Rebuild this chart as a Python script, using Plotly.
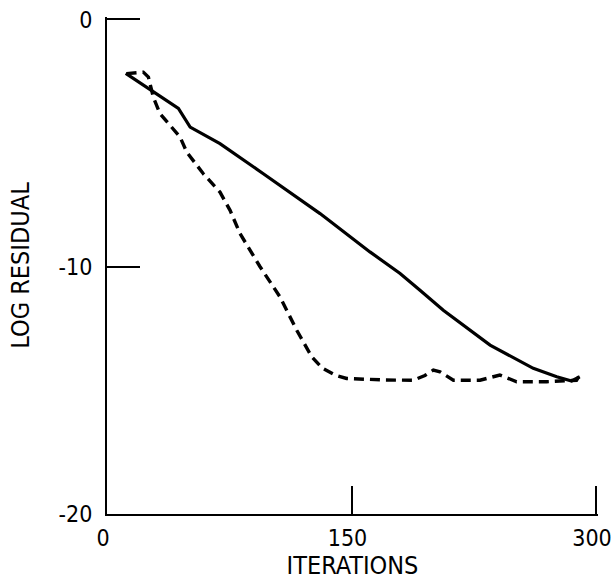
import plotly.graph_objects as go

# Solid curve
solid_x = [11.5, 43.8, 51, 69.3, 95.9, 130.7, 161.3, 179.8, 192, 206.3, 235, 261.5, 275.9, 285, 290]
solid_y = [-2.18, -3.6, -4.35, -5.02, -6.24, -7.85, -9.4, -10.27, -10.95, -11.76, -13.17, -14.11, -14.45, -14.62, -14.45]

# Dashed curve
dash_x = [12, 22.3, 25.4, 28.4, 32.5, 44.8, 48.9, 59.1, 69.3, 75.5, 81.6, 93.9, 106.1, 116.4,
          125.6, 132, 139.9, 147, 170, 188, 195, 200.2, 204.3, 212.5, 228.8, 241, 251.3, 269.7, 288, 290]
dash_y = [-2.19, -2.13, -2.33, -3.14, -3.81, -4.75, -5.36, -6.24, -6.98, -7.72, -8.66, -10.0, -11.22, -12.57,
          -13.64, -14.1, -14.38, -14.52, -14.58, -14.59, -14.4, -14.18, -14.25, -14.59, -14.59, -14.38, -14.65, -14.65, -14.59, -14.38]

x_ticks = [0, 150, 300]
x_ticktext = ["0", "150", "300"]
y_ticks = [0, -10, -20]
y_ticktext = ["0", "-10", "-20"]
x_title = "ITERATIONS"
y_title = "LOG RESIDUAL"

FONT = "DejaVu Sans Condensed, Liberation Sans Narrow, sans-serif"

fig = go.Figure()
fig.add_trace(go.Scatter(x=solid_x, y=solid_y, mode="lines",
                         line=dict(color="black", width=3.2), showlegend=False))
fig.add_trace(go.Scatter(x=dash_x, y=dash_y, mode="lines",
                         line=dict(color="black", width=3.4, dash="10px,6px"), showlegend=False))

fig.update_layout(
    width=613, height=584,
    margin=dict(l=107, r=15, t=17, b=70, pad=0, autoexpand=False),
    paper_bgcolor="white", plot_bgcolor="white",
    font=dict(family=FONT, size=25, color="black"),
    xaxis=dict(range=[0, 301.2], tickvals=x_ticks, ticktext=x_ticktext,
               ticks="inside", ticklen=28, tickwidth=2, tickcolor="black",
               tickfont=dict(size=23), ticklabelshift=-4, ticklabelstandoff=2,
               showline=True, linewidth=2, linecolor="black", automargin=False,
               showgrid=False, zeroline=False, ticklabeloverflow="allow",
               title=dict(text=x_title, standoff=6, font=dict(size=25))),
    yaxis=dict(range=[-20, 0.1], tickvals=y_ticks, ticktext=y_ticktext,
               ticks="inside", ticklen=33, tickwidth=2, tickcolor="black",
               tickfont=dict(size=23),
               showline=True, linewidth=2, linecolor="black", automargin=False,
               showgrid=False, zeroline=False, ticklabelstandoff=8,
               ticklabeloverflow="allow",
               title=dict(text=y_title, standoff=22, font=dict(size=25))),
)

fig.write_html("out.html")
